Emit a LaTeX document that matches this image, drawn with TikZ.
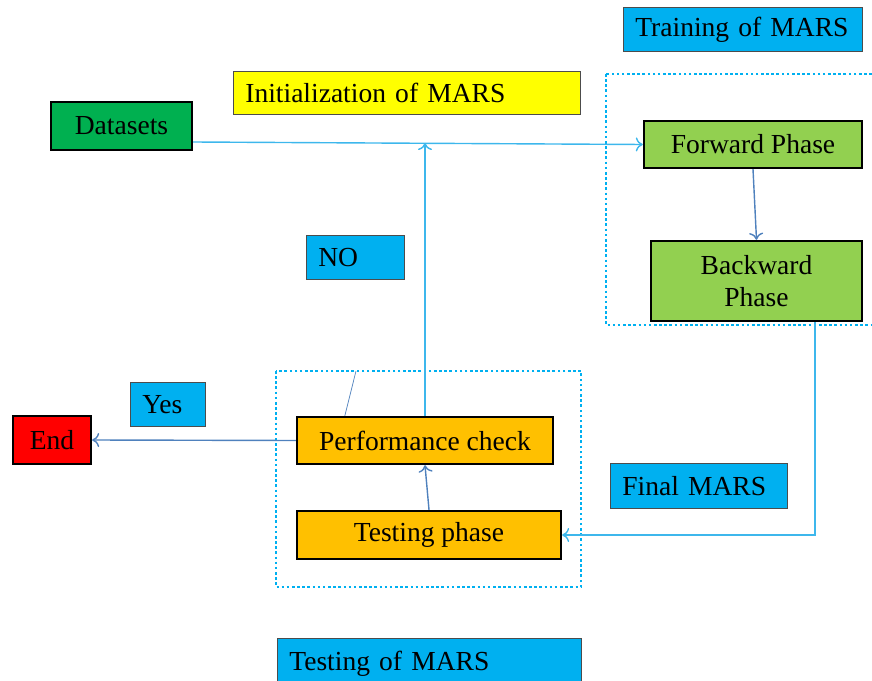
\documentclass[tikz,border=0pt]{standalone}
\usepackage{fontspec}
\setmainfont{Liberation Serif}
\usetikzlibrary{arrows.meta}
\definecolor{mcyan}{HTML}{00B0F0}
\definecolor{myellow}{HTML}{FFFF00}
\definecolor{mgreen}{HTML}{00B050}
\definecolor{mlime}{HTML}{92D050}
\definecolor{mred}{HTML}{FF0000}
\definecolor{morange}{HTML}{FFC000}
\definecolor{lblue}{HTML}{3DB7EC}
\definecolor{sblue}{HTML}{4F81BD}
\begin{document}
\begin{tikzpicture}[x=0.03cm,y=-0.03cm,>={To[length=6pt,width=12pt]},font=\fontsize{23.5}{27}\selectfont]
\tikzstyle{stepbox}=[rectangle,draw=black,line width=2pt,inner sep=0pt,align=center]
\tikzstyle{lbl}=[rectangle,draw=black!70,line width=0.6pt,fill=mcyan,anchor=north west,inner xsep=0.36cm,inner ysep=0pt,align=left]
\tikzstyle{dotbox}=[draw=mcyan,line width=2.2pt,dash pattern=on 2.2pt off 2.2pt]
\tikzstyle{cline}=[draw=lblue,line width=1.2pt]
\tikzstyle{sline}=[draw=sblue,line width=1.2pt]
\useasboundingbox (0,0) rectangle (872,681);

% frames
\draw[dotbox] (606,74) rectangle (890,325);
\draw[dotbox] (276,371) rectangle (581,587);

% labels
\node[lbl,text width=6.45cm,minimum height=1.32cm](train) at (623,7) {Training of MARS};
\node[lbl,fill=myellow,text width=9.69cm,minimum height=1.29cm](init) at (233,71) {Initialization of MARS};
\node[lbl,text width=2.22cm,minimum height=1.32cm](no) at (306,235) {NO};
\node[lbl,text width=1.53cm,minimum height=1.32cm](yes) at (130,382) {Yes};
\node[lbl,text width=4.59cm,minimum height=1.35cm](final) at (610,463) {Final MARS};
\node[lbl,text width=8.40cm,minimum height=1.5cm](testm) at (277,638) {Testing of MARS};

% steps
\node[stepbox,fill=mgreen,minimum width=4.23cm,minimum height=1.44cm](data) at (121.5,126) {Datasets};
\node[stepbox,fill=mlime,minimum width=6.54cm,minimum height=1.41cm](fwd) at (753,144.5) {Forward Phase};
\node[stepbox,fill=mlime,minimum width=6.33cm,minimum height=2.4cm](bwd) at (756.5,281) {Backward\\Phase};
\node[stepbox,fill=mred,minimum width=2.34cm,minimum height=1.44cm](end) at (52,440) {End};
\node[stepbox,fill=morange,minimum width=7.68cm,minimum height=1.41cm](perf) at (425,440.5) {Performance check};
\node[stepbox,fill=morange,minimum width=7.92cm,minimum height=1.44cm](test) at (429,535) {Testing phase};

\coordinate (join) at (425,143);
\coordinate (top) at (356,371);

\draw[cline,->] ([yshift=-0.48cm]data.east) -- (fwd.west);
\draw[cline,->] (perf.north) -- (join);
\draw[sline,->] (fwd.south) -- (bwd.north);
\draw[cline,->] ([xshift=1.76cm]bwd.south) |- (test.east);
\draw[sline,->] (test.north) -- (perf.south);
\draw[sline,->] (perf.west) -- (end.east);
\draw[sline,line width=0.6pt] ([xshift=1.47cm]perf.north west) -- (top);
\end{tikzpicture}
\end{document}
